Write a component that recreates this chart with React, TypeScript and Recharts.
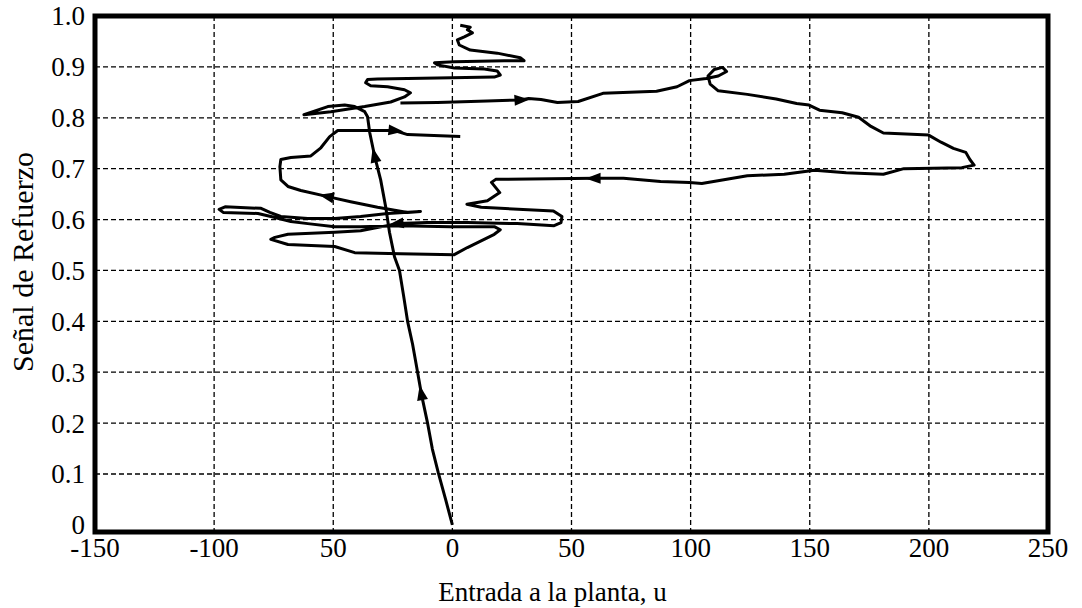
import { LineChart, Line, XAxis, YAxis, CartesianGrid, ReferenceArea } from "recharts";

// axis ticks (the original figure labels -50 as "50")
const xTicks = [-150, -100, -50, 0, 50, 100, 150, 200, 250];
const xTickLabels = ["-150", "-100", "50", "0", "50", "100", "150", "200", "250"];
const yTicks = [0, 0.1, 0.2, 0.3, 0.4, 0.5, 0.6, 0.7, 0.8, 0.9, 1.0];
const yTickLabels = ["0", "0.1", "0.2", "0.3", "0.4", "0.5", "0.6", "0.7", "0.8", "0.9", "1.0"];
const gridX = [-100, -50, 0, 50, 100, 150, 200];
const gridY = [0.1, 0.2, 0.3, 0.4, 0.5, 0.6, 0.7, 0.8, 0.9];

// [u, reinforcement] — climb from the origin, then the squiggle to the top
const climb: [number, number][] = [
  [0, 0], [-2.9, 0.051], [-5.9, 0.102], [-8.4, 0.149], [-10.5, 0.202], [-13.0, 0.257],
  [-14.6, 0.3], [-16.7, 0.355], [-18.8, 0.4], [-20.5, 0.451], [-22.2, 0.5], [-24.3, 0.527],
  [-26.4, 0.575], [-28.0, 0.625], [-30.1, 0.678], [-32.6, 0.724], [-34.7, 0.771], [-35.6, 0.802],
  [-36.8, 0.812], [-41.0, 0.822], [-45.2, 0.825], [-52.3, 0.822], [-62.3, 0.806], [-51.0, 0.812],
  [-36.8, 0.822], [-25.9, 0.831], [-20.1, 0.841], [-17.6, 0.849], [-20.1, 0.855], [-27.2, 0.861],
  [-34.3, 0.863], [-36.4, 0.869], [-35.6, 0.875], [-31.4, 0.876], [-6.3, 0.878], [17.6, 0.88],
  [20.1, 0.884], [18.8, 0.892], [13.4, 0.896], [0.8, 0.898], [-6.3, 0.904], [-7.5, 0.908],
  [0.8, 0.91], [21.8, 0.912], [30.1, 0.912], [28.5, 0.918], [18.8, 0.927], [7.5, 0.933],
  [2.9, 0.943], [2.1, 0.953], [5.0, 0.959], [8.4, 0.967], [6.3, 0.973], [7.5, 0.978], [3.3, 0.982],
];

// the big excursion to the right and the lobes around 0.6
const sweep: [number, number][] = [
  [-21.8, 0.829], [-6.3, 0.83], [0.8, 0.831], [14.6, 0.833], [28.6, 0.835], [32, 0.838],
  [37.2, 0.836], [44.1, 0.83], [52.8, 0.832], [63.2, 0.848], [85.7, 0.852], [94.3, 0.861],
  [99.5, 0.873], [106.5, 0.877], [111.6, 0.882], [115.1, 0.891], [113.4, 0.899], [109.9, 0.895],
  [107.3, 0.882], [108.2, 0.866], [111.6, 0.853], [123.8, 0.846], [135.9, 0.837], [144.5, 0.828],
  [149.7, 0.825], [154.1, 0.815], [163.6, 0.81], [170.5, 0.801], [175.7, 0.783], [180.9, 0.77],
  [199.9, 0.766], [205.1, 0.752], [210.3, 0.74], [215.5, 0.732], [217.2, 0.718], [219, 0.707],
  [213.8, 0.702], [189.5, 0.7], [180.9, 0.689], [165.3, 0.692], [152, 0.697], [139.3, 0.689],
  [123.8, 0.686], [104.7, 0.671], [99.5, 0.673], [87.4, 0.675], [71.8, 0.681], [59.7, 0.681],
  [18.2, 0.679], [16.4, 0.673], [19.9, 0.653], [14.7, 0.637], [6.1, 0.63], [12.1, 0.624],
  [42.4, 0.617], [46.0, 0.606], [45.6, 0.594], [42.7, 0.588], [27.2, 0.592], [6.3, 0.594],
  [-10.5, 0.594], [-23.0, 0.592], [-38.5, 0.578], [-49.4, 0.575], [-69.0, 0.571], [-74.5, 0.565],
  [-76.2, 0.561], [-69.0, 0.551], [-49.4, 0.547], [-41.0, 0.535], [-21.8, 0.533], [0.8, 0.531],
  [6.3, 0.545], [17.6, 0.571], [20.1, 0.58], [17.6, 0.586], [-0.8, 0.586], [-21.8, 0.588],
  [-38.5, 0.586], [-49.4, 0.586], [-60.7, 0.592], [-67.8, 0.596], [-76.2, 0.606], [-81.6, 0.612],
  [-96.2, 0.614], [-97.9, 0.62], [-95.4, 0.625], [-80.3, 0.622], [-76.6, 0.614], [-72.0, 0.606],
  [-60.7, 0.602], [-49.4, 0.602], [-38.5, 0.606], [-27.2, 0.612], [-13.4, 0.616], [-18.8, 0.614],
  [-31.4, 0.624], [-42.7, 0.635], [-52.3, 0.645], [-63.6, 0.657], [-69.0, 0.665], [-72.0, 0.678],
  [-72.4, 0.704], [-72.0, 0.718], [-67.8, 0.722], [-59.4, 0.725], [-55.2, 0.741], [-51.5, 0.763],
  [-48.1, 0.775], [-35.6, 0.775], [-24.3, 0.775], [-18.8, 0.767], [3.3, 0.763],
];

// indices of points carrying a direction arrow
const climbArrows = [5, 15];
const sweepArrows = [4, 47, 61, 98, 110];

const yMin = -0.014;
const font = "'Liberation Serif', 'Times New Roman', serif";

const toRows = (pts: [number, number][]) => pts.map(([x, y]) => ({ x, y }));

function arrowDot(arrows: number[]) {
  return (props: any) => {
    const { cx, cy, index, points } = props;
    if (!arrows.includes(index) || cx == null) return <g key={`d-${index}`} />;
    let ang = 0;
    if (points && points[index - 1] && points[index + 1]) {
      const a = points[index - 1];
      const b = points[index + 1];
      ang = Math.atan2(b.y - a.y, b.x - a.x);
    }
    const c = Math.cos(ang);
    const s = Math.sin(ang);
    const len = 9, back = 6, half = 5.5;
    const tip = `${cx + c * len},${cy + s * len}`;
    const l = `${cx - c * back - s * half},${cy - s * back + c * half}`;
    const r = `${cx - c * back + s * half},${cy - s * back - c * half}`;
    return <polygon key={`d-${index}`} points={`${tip} ${l} ${r}`} fill="#000" />;
  };
}

const XTick = (p: any) => (
  <text x={p.x} y={p.y} dy="0.71em" textAnchor="middle" fill="#000" fontSize={27} fontFamily={font}>
    {xTickLabels[xTicks.indexOf(p.payload.value)]}
  </text>
);

const YTick = (p: any) => (
  <text x={p.x} y={p.y} dy="0.35em" textAnchor="end" fill="#000" fontSize={27} fontFamily={font}>
    {yTickLabels[yTicks.indexOf(p.payload.value)]}
  </text>
);

export default function App() {
  return (
    <div style={{ position: "absolute", left: 0, top: 0, background: "#fff", fontFamily: font }}>
      <LineChart width={1082} height={608} margin={{ top: 16, right: 34, bottom: 0, left: 0 }}>
        <CartesianGrid
          stroke="#000"
          strokeWidth={1.3}
          strokeDasharray="5 3"
          verticalValues={gridX}
          horizontalValues={gridY}
        />
        <XAxis
          dataKey="x"
          type="number"
          domain={[-150, 250]}
          ticks={xTicks}
          interval={0}
          allowDataOverflow
          tick={XTick}
          tickLine={false}
          axisLine={false}
          tickSize={0}
          tickMargin={6}
          height={76}
          label={{
            value: "Entrada a la planta, u",
            position: "insideBottom",
            offset: 7,
            dx: -19,
            style: { fill: "#000", fontSize: 27, fontFamily: font },
          }}
        />
        <YAxis
          type="number"
          domain={[yMin, 1]}
          ticks={yTicks}
          interval={0}
          allowDataOverflow
          tick={YTick}
          tickLine={false}
          axisLine={false}
          tickSize={0}
          tickMargin={10}
          width={95}
          label={{
            value: "Señal de Refuerzo",
            angle: -90,
            position: "insideLeft",
            offset: 22,
            dy: -12,
            style: { fill: "#000", fontSize: 30, fontFamily: font, textAnchor: "middle" },
          }}
        />
        <Line
          data={toRows(climb)}
          dataKey="y"
          type="linear"
          stroke="#000"
          strokeWidth={3}
          strokeLinejoin="round"
          dot={arrowDot(climbArrows)}
          activeDot={false}
          isAnimationActive={false}
        />
        <Line
          data={toRows(sweep)}
          dataKey="y"
          type="linear"
          stroke="#000"
          strokeWidth={3}
          strokeLinejoin="round"
          dot={arrowDot(sweepArrows)}
          activeDot={false}
          isAnimationActive={false}
        />
        <ReferenceArea
          x1={-150}
          x2={250}
          y1={yMin}
          y2={1}
          fill="none"
          stroke="#000"
          strokeWidth={5}
          ifOverflow="visible"
        />
      </LineChart>
    </div>
  );
}
